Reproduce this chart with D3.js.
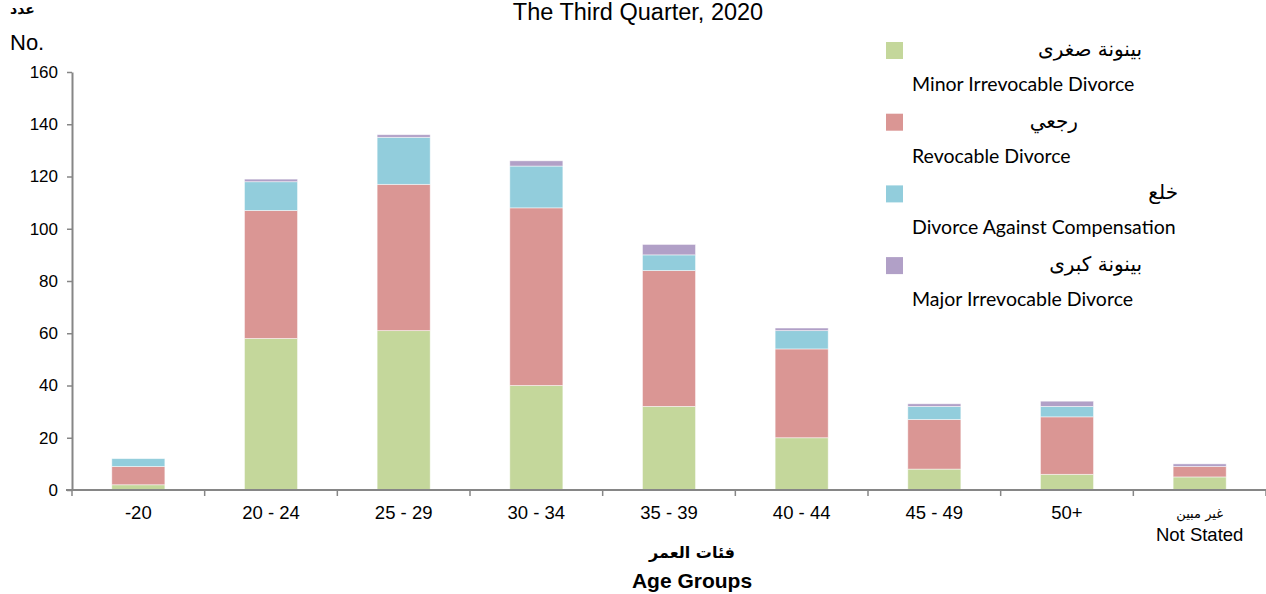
<!DOCTYPE html>
<meta charset="utf-8">
<style>
  body { margin: 0; background: #fff; }
  text { font-family: "Liberation Sans", Arial, sans-serif; fill: #000; }
  .legend-en { font-family: Lato, "Open Sans", sans-serif; font-size: 19.5px; }
  .ar { font-family: "DejaVu Sans", sans-serif; }
</style>
<script src="https://d3js.org/d3.v7.min.js"></script>
<div id="chart"></div>
<script>

// categories and series values
var ageGroups = ["-20", "20 - 24", "25 - 29", "30 - 34", "35 - 39", "40 - 44", "45 - 49", "50+", "Not Stated"];
var minorIrrevocable = [2, 58, 61, 40, 32, 20, 8, 6, 5];
var revocable        = [7, 49, 56, 68, 52, 34, 19, 22, 4];
var againstComp      = [3, 11, 18, 16, 6, 7, 5, 4, 0];
var majorIrrevocable = [0, 1, 1, 2, 4, 1, 1, 2, 1];
var yTicks = [0, 20, 40, 60, 80, 100, 120, 140, 160];

var seriesKeys = ["minor", "revocable", "comp", "major"];
var seriesAr = ["بينونة صغرى", "رجعي", "خلع", "بينونة كبرى"];
var seriesEn = ["Minor Irrevocable Divorce", "Revocable Divorce", "Divorce Against Compensation", "Major Irrevocable Divorce"];
var colors = ["#c4d79b", "#da9694", "#92cddc", "#b1a0c7"];

var W = 1266, H = 594;
var margin = {top: 72, right: 0, bottom: 104, left: 72};

var svg = d3.select("#chart").append("svg")
    .attr("width", W)
    .attr("height", H);

var rows = ageGroups.map(function(g, i) {
  return {group: g, minor: minorIrrevocable[i], revocable: revocable[i], comp: againstComp[i], major: majorIrrevocable[i]};
});
var stacked = d3.stack().keys(seriesKeys)(rows);

var x = d3.scaleBand()
  .domain(ageGroups)
  .range([margin.left, W - margin.right])
  .paddingInner(0.6)
  .paddingOuter(0.3);

var y = d3.scaleLinear()
  .domain([0, 160])
  .range([H - margin.bottom, margin.top]);

// bars
svg.append("g").selectAll("g")
  .data(stacked)
  .enter().append("g")
    .attr("fill", function(d, i) { return colors[i]; })
  .selectAll("rect")
  .data(function(d) { return d; })
  .enter().append("rect")
    .attr("x", function(d) { return x(d.data.group); })
    .attr("y", function(d) { return y(d[1]); })
    .attr("width", x.bandwidth())
    .attr("height", function(d) { return y(d[0]) - y(d[1]); })
    .attr("stroke", "#fff")
    .attr("stroke-opacity", 0.6)
    .attr("stroke-width", 0.8);

var axisColor = "#868686";

// y axis
var yAxis = svg.append("g")
  .attr("transform", "translate(" + margin.left + ",0)")
  .call(d3.axisLeft(y).tickValues(yTicks).tickSize(5).tickSizeOuter(0));
yAxis.select(".domain").attr("stroke", axisColor).attr("stroke-width", 2);
yAxis.selectAll(".tick line").attr("stroke", axisColor).attr("stroke-width", 1.5);
yAxis.selectAll(".tick text")
  .attr("x", -14)
  .style("font-family", "'Liberation Sans', Arial, sans-serif")
  .style("font-size", "17px")
  .attr("fill", "#000");

// x axis line and boundary ticks
var xAxis = svg.append("g");
var step = x.step();
var boundaries = ageGroups.map(function(g) { return x(g) - (step - x.bandwidth()) / 2; });
boundaries.push(boundaries[boundaries.length - 1] + step);
xAxis.append("line")
  .attr("x1", margin.left - 6).attr("x2", W)
  .attr("y1", y(0)).attr("y2", y(0))
  .attr("stroke", axisColor).attr("stroke-width", 2);
xAxis.selectAll(".bt")
  .data(boundaries)
  .enter().append("line")
    .attr("x1", function(d) { return d; }).attr("x2", function(d) { return d; })
    .attr("y1", y(0)).attr("y2", y(0) + 6)
    .attr("stroke", axisColor).attr("stroke-width", 1.5);

xAxis.selectAll(".lbl")
  .data(ageGroups)
  .enter().append("text")
    .attr("x", function(d) { return x(d) + x.bandwidth() / 2; })
    .attr("y", function(d) { return d === "Not Stated" ? 541 : 519; })
    .attr("text-anchor", "middle")
    .style("font-size", "18.5px")
    .text(function(d) { return d; });
xAxis.append("text")
  .attr("class", "ar")
  .attr("x", x("Not Stated") + x.bandwidth() / 2)
  .attr("y", 518)
  .attr("text-anchor", "middle")
  .style("font-size", "13px")
  .text("غير مبين");

// axis titles
svg.append("text")
  .attr("class", "ar")
  .attr("x", 692).attr("y", 558)
  .attr("text-anchor", "middle")
  .style("font-size", "16px").style("font-weight", "bold")
  .text("فئات العمر");
svg.append("text")
  .attr("x", 692).attr("y", 588)
  .attr("text-anchor", "middle")
  .style("font-size", "21px").style("font-weight", "bold")
  .text("Age Groups");

svg.append("text")
  .attr("class", "ar")
  .attr("x", 10).attr("y", 14)
  .style("font-size", "14px").style("font-weight", "bold")
  .text("عدد");
svg.append("text")
  .attr("x", 10).attr("y", 50)
  .style("font-size", "22px")
  .text("No.");

// title
svg.append("text")
  .attr("x", 638).attr("y", 20)
  .attr("text-anchor", "middle")
  .style("font-size", "23.5px")
  .text("The Third Quarter, 2020");

// legend
var arRight = [1142, 1078, 1178, 1142];
var legend = svg.append("g").selectAll("g")
  .data(seriesKeys)
  .enter().append("g")
    .attr("transform", function(d, i) { return "translate(0," + (42 + i * 71.7) + ")"; });
legend.append("rect")
  .attr("x", 886).attr("y", 0)
  .attr("width", 17).attr("height", 17)
  .attr("fill", function(d, i) { return colors[i]; });
legend.append("text")
  .attr("class", "ar")
  .attr("x", function(d, i) { return arRight[i]; })
  .attr("y", 14)
  .attr("text-anchor", "end")
  .style("font-size", "20px")
  .text(function(d, i) { return seriesAr[i]; });
legend.append("text")
  .attr("class", "legend-en")
  .attr("x", 912)
  .attr("y", 49)
  .text(function(d, i) { return seriesEn[i]; });

</script>
